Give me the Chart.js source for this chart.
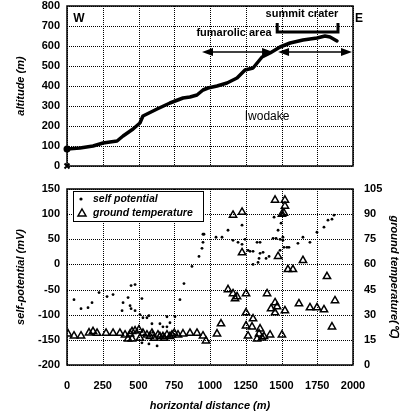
<!DOCTYPE html>
<html><head><meta charset="utf-8">
<script src="https://cdn.jsdelivr.net/npm/chart.js@4/dist/chart.umd.min.js"></script>
<style>
html,body{margin:0;padding:0;background:#fff;width:402px;height:417px;overflow:hidden}
canvas{position:absolute;left:0}
#c1{top:0}#c2{top:175px}
</style></head>
<body>
<canvas id="c1" width="402" height="175"></canvas>
<canvas id="c2" width="402" height="242"></canvas>
<script>
// ---------- data ----------
const distTicks = [0,250,500,750,1000,1250,1500,1750,2000];
const altTicks = [0,100,200,300,400,500,600,700,800];
const spTicks = [-200,-150,-100,-50,0,50,100,150];
const tempTicks = [0,15,30,45,60,75,90,105];

const profileDist = [0,91,182,252,350,392,462,510,531,630,720,811,860,909,951,986,1049,1119,1189,1245,1301,1364,1420,1490,1560,1650,1748,1804,1839,1888];
const profileAlt  = [85,90,100,115,125,150,185,215,250,285,315,340,345,355,380,390,400,415,440,480,490,545,565,595,615,630,640,650,645,625];

const spDist = [49,98,147,175,224,280,322,385,392,427,448,476,441,448,476,524,510,531,559,573,594,650,671,699,699,720,755,790,818,874,923,944,951,951,958,524,573,630,490,540,600,1042,1084,1126,1161,1196,1224,1224,1245,1266,1280,1301,1329,1350,1350,1343,1371,1392,1413,1441,1448,1462,1476,1490,1497,1503,1510,1510,1517,1538,1552,1490,1615,1650,1699,1748,1797,1825,1853,1867,1301,1336];
const spValue = [-70,-88,-86,-76,-56,-64,-60,-92,-76,-66,-42,-40,-82,-88,-92,-68,-100,-106,-106,-102,-118,-118,-124,-124,-104,-116,-104,-70,-38,-4,16,32,44,60,60,-156,-158,-162,-130,-140,-135,54,54,68,48,44,78,40,50,28,26,26,44,44,22,12,24,12,16,52,94,52,68,50,82,102,54,48,34,34,34,28,42,54,44,64,74,88,90,98,0,4];

const tempDist = [7,49,98,154,182,210,273,322,370,406,441,476,503,531,559,427,455,455,510,594,580,610,636,650,671,680,699,720,734,750,776,811,860,909,951,972,1049,1077,1126,1161,1175,1189,1252,1252,1252,1266,1301,1294,1350,1343,1329,1364,1378,1420,1503,1399,1455,1469,1427,1455,1524,1622,1699,1748,1797,1874,1853,1818,1455,1524,1524,1517,1503,1161,1224,1224,1476,1650,1545,1580];
const tempValue = [18.6,17.4,17.4,19.2,20,19,19,19,19,18,18.5,20.4,21,19,18,15.6,15.6,20,16,19,17,16,18,17,17,16,18,17,18,19,18,18.6,19,19,17.4,14.4,18.6,24.6,45,42.6,39.6,40.8,42.6,31.2,23.4,17.4,27.6,22.8,21.6,18.6,15.6,16.2,17,18,18,42.6,37.2,34.8,33.6,31.2,32.4,36.6,34.2,34.2,33,38.4,22.8,52.8,98.4,98.4,94.8,90.6,90,89.4,91.2,67,64.8,62.4,57,57];

const seriesNames = ['self potential','ground temperature'];
const topNoteTexts = ['W','E','summit crater','fumarolic area','Iwodake'];

// ---------- styles ----------
const FONT = 'Liberation Sans';
const tickFont = {family: FONT, size: 11, weight: 'bold'};
const titleFont = {family: FONT, size: 11, weight: 'bold', style: 'italic'};
const noGrid = {display: false, drawTicks: false};

function toPts(xs, ys){ return xs.map((x,i)=>({x, y: ys[i]})); }
function fixTicks(arr){ return s => { s.ticks = arr.map(v => ({value: v})); }; }
const plainLabel = v => String(v);
const fitY = w => s => { s.width = w; s.paddingTop = 0; s.paddingBottom = 0; };
const fitX = h => s => { s.height = h; s.paddingLeft = 0; s.paddingRight = 0; };

// dotted grid drawn at the library's tick positions
const dotGridPlugin = {
  id: 'dotGrid',
  beforeDatasetsDraw(chart){
    const {ctx, chartArea: a} = chart;
    ctx.save(); ctx.fillStyle = '#000';
    const xs = chart.scales.x, ys = chart.scales.y;
    xs.ticks.forEach(t => {
      const px = Math.round(xs.getPixelForValue(t.value));
      for (let y = Math.round(a.top); y < a.bottom; y += 2) ctx.fillRect(px, y, 1, 1);
    });
    ys.ticks.forEach(t => {
      const py = Math.round(ys.getPixelForValue(t.value));
      for (let x = Math.round(a.left); x < a.right; x += 2) ctx.fillRect(x, py, 1, 1);
    });
    ctx.restore();
  }
};

const framePlugin = {
  id: 'frame',
  afterDatasetsDraw(chart){
    const {ctx, chartArea: a} = chart;
    ctx.save();
    ctx.strokeStyle = '#000'; ctx.lineWidth = 1.5;
    ctx.strokeRect(a.left, a.top, a.right - a.left, a.bottom - a.top);
    ctx.restore();
  }
};

// ---------- top chart ----------
const topNotes = {
  texts: [
    {t: 0, x: 84,   y: 735, font: 'bold 12px ' + FONT},
    {t: 1, x: 2042, y: 735, font: 'bold 12px ' + FONT},
    {t: 2, x: 1643, y: 760, font: 'bold 11px ' + FONT},
    {t: 3, x: 1168, y: 665, font: 'bold 11px ' + FONT},
    {t: 4, x: 1399, y: 245, font: '12px ' + FONT}
  ],
  bracket: {x1: 1470, x2: 1895, yTop: 715, yBot: 670},
  arrows: [{x1: 944, x2: 1441, y: 570}, {x1: 1476, x2: 1993, y: 570}]
};

const topNotesPlugin = {
  id: 'topNotes',
  afterDatasetsDraw(chart){
    const {ctx} = chart;
    const xs = chart.scales.x, ys = chart.scales.y;
    const X = v => xs.getPixelForValue(v), Y = v => ys.getPixelForValue(v);
    ctx.save();
    ctx.fillStyle = '#000'; ctx.strokeStyle = '#000';
    ctx.textAlign = 'center'; ctx.textBaseline = 'middle';
    topNotes.texts.forEach(n => { ctx.font = n.font; ctx.fillText(topNoteTexts[n.t], X(n.x), Y(n.y)); });
    const b = topNotes.bracket;
    ctx.lineWidth = 3; ctx.lineJoin = 'miter';
    ctx.beginPath();
    ctx.moveTo(X(b.x1), Y(b.yTop)); ctx.lineTo(X(b.x1), Y(b.yBot));
    ctx.lineTo(X(b.x2), Y(b.yBot)); ctx.lineTo(X(b.x2), Y(b.yTop));
    ctx.stroke();
    ctx.lineWidth = 1.5;
    topNotes.arrows.forEach(a => {
      const x1 = X(a.x1), x2 = X(a.x2), y = Y(a.y);
      ctx.beginPath(); ctx.moveTo(x1 + 6, y); ctx.lineTo(x2 - 6, y); ctx.stroke();
      ctx.beginPath(); ctx.moveTo(x1, y); ctx.lineTo(x1 + 11, y - 4); ctx.lineTo(x1 + 11, y + 4); ctx.closePath(); ctx.fill();
      ctx.beginPath(); ctx.moveTo(x2, y); ctx.lineTo(x2 - 11, y - 4); ctx.lineTo(x2 - 11, y + 4); ctx.closePath(); ctx.fill();
    });
    ctx.restore();
  }
};

new Chart(document.getElementById('c1'), {
  type: 'scatter',
  data: {
    datasets: [
      {data: toPts(profileDist, profileAlt), showLine: true, borderColor: '#000', borderWidth: 3.5,
       pointRadius: ctx => ctx.dataIndex === 0 ? 3.5 : 0, pointBackgroundColor: '#000', pointBorderWidth: 0, tension: 0, borderJoinStyle: 'round', borderCapStyle: 'round'},
      {data: [{x: 0, y: 0}], pointStyle: 'crossRot', pointRadius: 3.5, borderColor: '#000', borderWidth: 2, showLine: false}
    ]
  },
  options: {
    responsive: false, animation: false, devicePixelRatio: 1,
    layout: {padding: {top: 5, right: 49, left: 0, bottom: 0}},
    plugins: {legend: {display: false}, tooltip: {enabled: false}},
    clip: false,
    scales: {
      x: {type: 'linear', min: 0, max: 2000, afterBuildTicks: fixTicks(distTicks),
          ticks: {display: false}, grid: noGrid, border: {display: false},
          afterFit: fitX(9)},
      y: {type: 'linear', min: 0, max: 800, afterBuildTicks: fixTicks(altTicks),
          ticks: {font: tickFont, color: '#000', padding: 7, callback: plainLabel},
          grid: noGrid, border: {display: false},
          title: {display: true, text: 'altitude (m)', font: titleFont, color: '#000', padding: {top: 14, bottom: 0}},
          afterFit: fitY(67)}
    }
  },
  plugins: [dotGridPlugin, framePlugin, topNotesPlugin]
});

// ---------- bottom chart ----------
const legendPlugin = {
  id: 'boxLegend',
  afterDatasetsDraw(chart){
    const {ctx, chartArea: a} = chart;
    const bx = a.left + 6, by = a.top + 2, bw = 130, bh = 30;
    ctx.save();
    ctx.fillStyle = '#fff'; ctx.fillRect(bx, by, bw, bh);
    ctx.strokeStyle = '#000'; ctx.lineWidth = 1; ctx.strokeRect(bx + 0.5, by + 0.5, bw, bh);
    ctx.fillStyle = '#000';
    ctx.beginPath(); ctx.arc(bx + 8, by + 8, 1.6, 0, Math.PI * 2); ctx.fill();
    ctx.lineWidth = 1.5;
    const tx = bx + 9, ty = by + 22;
    ctx.beginPath(); ctx.moveTo(tx, ty - 4); ctx.lineTo(tx + 4, ty + 3); ctx.lineTo(tx - 4, ty + 3); ctx.closePath(); ctx.stroke();
    ctx.font = 'italic bold 10.5px ' + FONT; ctx.textBaseline = 'middle'; ctx.textAlign = 'left';
    ctx.fillText(seriesNames[0], bx + 20, by + 8);
    ctx.fillText(seriesNames[1], bx + 20, by + 22);
    ctx.restore();
  }
};

new Chart(document.getElementById('c2'), {
  type: 'scatter',
  data: {
    datasets: [
      {label: seriesNames[0], data: toPts(spDist, spValue), yAxisID: 'y', pointStyle: 'circle', pointRadius: 1.4,
       pointBackgroundColor: '#000', pointBorderWidth: 0, borderColor: '#000'},
      {label: seriesNames[1], data: toPts(tempDist, tempValue), yAxisID: 'y2', pointStyle: 'triangle', pointRadius: 4.2,
       pointBackgroundColor: 'rgba(0,0,0,0)', pointBorderColor: '#000', pointBorderWidth: 1.5}
    ]
  },
  options: {
    responsive: false, animation: false, devicePixelRatio: 1,
    layout: {padding: {top: 14, right: 0, left: 0, bottom: 0}},
    plugins: {legend: {display: false}, tooltip: {enabled: false}},
    scales: {
      x: {type: 'linear', min: 0, max: 2000, afterBuildTicks: fixTicks(distTicks),
          ticks: {font: tickFont, color: '#000', padding: 14, maxRotation: 0, callback: plainLabel},
          grid: noGrid, border: {display: false},
          title: {display: true, text: 'horizontal distance (m)', font: titleFont, color: '#000', padding: {top: 0, bottom: 4}},
          afterFit: fitX(52)},
      y: {type: 'linear', position: 'left', min: -200, max: 150, afterBuildTicks: fixTicks(spTicks),
          ticks: {font: tickFont, color: '#000', padding: 7, callback: plainLabel},
          grid: noGrid, border: {display: false},
          title: {display: true, text: 'self-potential (mV)', font: titleFont, color: '#000', padding: {top: 14, bottom: 0}},
          afterFit: fitY(67)},
      y2: {type: 'linear', position: 'right', min: 0, max: 105, afterBuildTicks: fixTicks(tempTicks),
          ticks: {font: tickFont, color: '#000', padding: 11, callback: plainLabel},
          grid: noGrid, border: {display: false},
          title: {display: true, text: 'ground temperature(℃)', font: titleFont, color: '#000', padding: {top: 1, bottom: 0}},
          afterFit: fitY(49)}
    }
  },
  plugins: [dotGridPlugin, framePlugin, legendPlugin]
});
</script>
</body></html>
